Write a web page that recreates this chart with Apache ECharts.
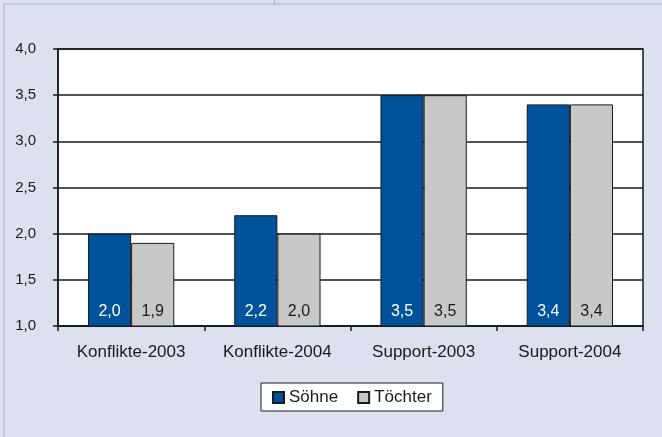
<!DOCTYPE html>
<html>
<head>
<meta charset="utf-8">
<script src="https://cdn.jsdelivr.net/npm/echarts@6/dist/echarts.min.js"></script>
<style>
  html, body { margin: 0; padding: 0; background: #fff; }
  #chart { width: 662px; height: 437px; }
</style>
</head>
<body>
<div id="chart"></div>
<script>
// Daten
const categories = ['Konflikte-2003', 'Konflikte-2004', 'Support-2003', 'Support-2004'];
const soehne = [2.0, 2.2, 3.5, 3.4];
const toechter = [1.9, 2.0, 3.5, 3.4];
const seriesNames = ['Söhne', 'Töchter'];

const fmt = v => v.toFixed(1).replace('.', ',');
const font = 'Liberation Sans, Arial, sans-serif';

const chart = echarts.init(document.getElementById('chart'));

const option = {
  backgroundColor: '#dde1ef',
  animation: false,
  textStyle: { fontFamily: font },
  graphic: [
    // Rahmenlinien oben/links
    { type: 'rect', shape: { x: 4, y: 4, width: 700, height: 500 },
      style: { fill: 'none', stroke: '#9fb0da', lineWidth: 1 } },
    { type: 'line', shape: { x1: 274.5, y1: 0, x2: 274.5, y2: 4 },
      style: { stroke: '#9fb0da', lineWidth: 1 } }
  ],
  grid: {
    left: 58,
    right: 19,
    top: 49,
    bottom: 111,
    show: true,
    backgroundColor: '#fff',
    borderColor: '#1a1a1a',
    borderWidth: 1.5
  },
  legend: {
    data: seriesNames,
    left: 261,
    top: 383,
    backgroundColor: '#fff',
    borderColor: '#1a1a1a',
    borderWidth: 1,
    padding: [6, 11, 5, 11],
    itemWidth: 11,
    itemHeight: 11,
    itemGap: 19,
    icon: 'rect',
    textStyle: { fontSize: 17, color: '#1a1a1a', fontFamily: font }
  },
  xAxis: {
    type: 'category',
    data: categories,
    axisLine: { lineStyle: { color: '#1a1a1a', width: 1.5 } },
    axisTick: { show: true, length: 5, lineStyle: { color: '#1a1a1a', width: 1.5 } },
    axisLabel: { fontSize: 17, color: '#1a1a1a', margin: 18 }
  },
  yAxis: {
    type: 'value',
    min: 1,
    max: 4,
    interval: 0.5,
    axisLine: { show: true, lineStyle: { color: '#1a1a1a', width: 1.5 } },
    axisTick: { show: true, length: 5, lineStyle: { color: '#1a1a1a', width: 1.5 } },
    splitLine: { lineStyle: { color: '#1a1a1a', width: 1.5 } },
    axisLabel: { fontSize: 15, color: '#1a1a1a', margin: 22, formatter: fmt }
  },
  series: [
    {
      name: seriesNames[0],
      type: 'bar',
      data: soehne,
      barGap: '0%',
      barCategoryGap: '41%',
      itemStyle: { color: '#00529b', borderColor: '#1a1a1a', borderWidth: 1 },
      label: {
        show: true, position: 'insideBottom', distance: 7,
        fontSize: 16, color: '#fff', formatter: p => fmt(p.value)
      }
    },
    {
      name: seriesNames[1],
      type: 'bar',
      data: toechter,
      itemStyle: { color: '#c8c8c8', borderColor: '#1a1a1a', borderWidth: 1 },
      label: {
        show: true, position: 'insideBottom', distance: 7,
        fontSize: 16, color: '#1a1a1a', formatter: p => fmt(p.value)
      }
    }
  ]
};

chart.setOption(option);
</script>
</body>
</html>
